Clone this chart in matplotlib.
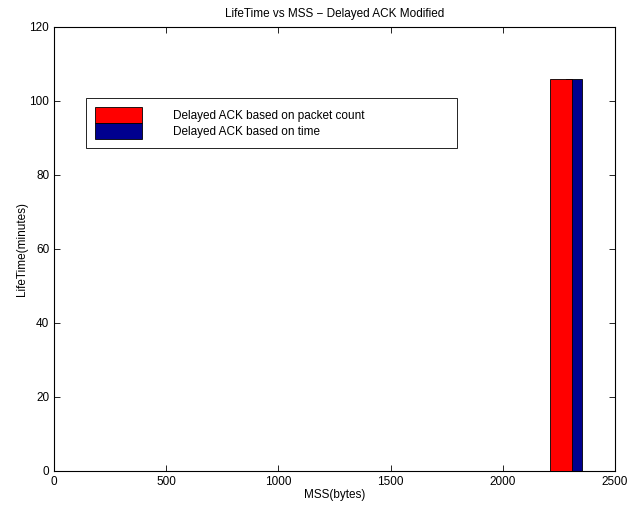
import matplotlib
matplotlib.use("Agg")
import matplotlib.pyplot as plt
from matplotlib.patches import Patch

plt.rcParams['font.family'] = ['Liberation Sans', 'DejaVu Sans']

# lifetime (minutes) for each delayed-ACK variant at one MSS value
labels = ["Delayed ACK based on packet count", "Delayed ACK based on time"]
mss = [2280]
lifetime_count = [106]
lifetime_time = [106]
colors = ["#ff0000", "#00008f"]

fig = plt.figure(figsize=(6.36, 5.08), dpi=100)
ax = fig.add_axes([0.085, 0.073, 0.882, 0.874])

# grouped bars, second one partly hidden behind the first
ax.bar([m + 38 for m in mss], lifetime_time, width=70, color=colors[1],
       edgecolor="black", linewidth=0.6, zorder=2)
ax.bar([m - 22 for m in mss], lifetime_count, width=98, color=colors[0],
       edgecolor="black", linewidth=0.6, zorder=3)

ax.set_xlim(0, 2500)
ax.set_ylim(0, 120)
ax.set_xticks([0, 500, 1000, 1500, 2000, 2500])
ax.set_yticks([0, 20, 40, 60, 80, 100, 120])
ax.tick_params(direction="in", top=True, right=True, labelsize=8.5,
               length=4, width=0.6)
for s in ax.spines.values():
    s.set_linewidth(0.8)

ax.set_title("LifeTime vs MSS \u2212 Delayed ACK Modified", fontsize=8.5, pad=7)
ax.set_xlabel("MSS(bytes)", fontsize=8.5, labelpad=1)
ax.set_ylabel("LifeTime(minutes)", fontsize=8.5, labelpad=1)

handles = [Patch(facecolor=c, edgecolor="black", linewidth=0.6) for c in colors]
leg = ax.legend(handles, labels, loc="lower left",
                bbox_to_anchor=(0.057, 0.727, 0.661, 0.115), mode="expand",
                fontsize=8.5, handlelength=4.0, handleheight=1.75,
                labelspacing=0.0, handletextpad=2.6, borderpad=0.75,
                borderaxespad=0, fancybox=False, framealpha=1,
                edgecolor="black")
leg.get_frame().set_linewidth(0.6)

fig.savefig("out.png", dpi=100)
